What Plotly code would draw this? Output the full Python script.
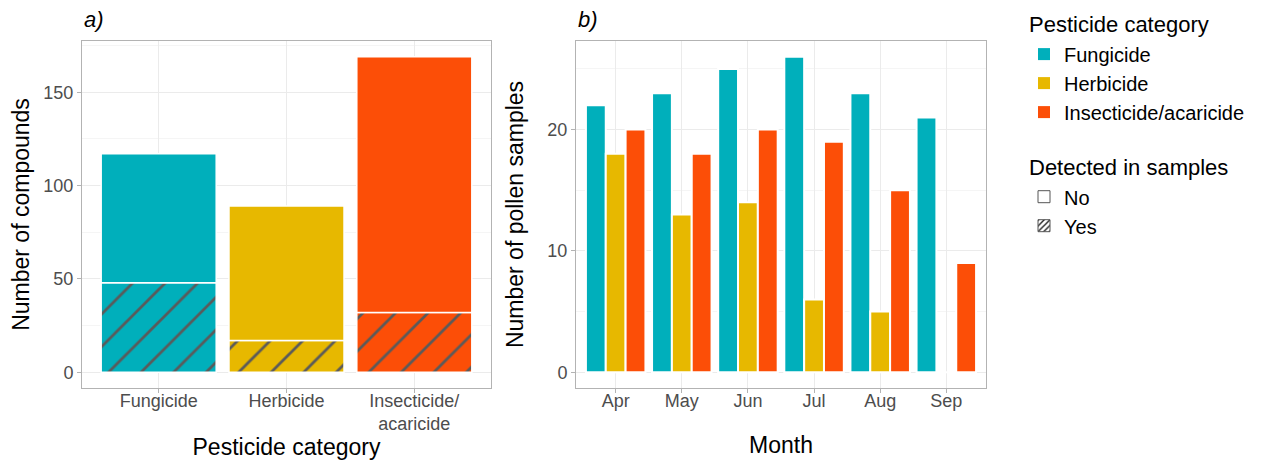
import plotly.graph_objects as go

# ---------------- data ----------------
categories = ["Fungicide", "Herbicide", "Insecticide/acaricide"]
category_ticktext = ["Fungicide", "Herbicide", "Insecticide/<br>acaricide"]
compounds_total = [117, 89, 169]
compounds_detected = [48, 17, 32]
compounds_not_detected = [t - d for t, d in zip(compounds_total, compounds_detected)]

months = ["Apr", "May", "Jun", "Jul", "Aug", "Sep"]
fungicide_samples = [22, 23, 25, 26, 23, 21]
herbicide_samples = [18, 13, 14, 6, 5, 0]
insecticide_samples = [20, 18, 20, 19, 15, 9]

palette = ["#00AFBB", "#E7B800", "#FC4E07"]
legend_names = ["Fungicide", "Herbicide", "Insecticide/acaricide"]

FONT = "Liberation Sans, Arial, sans-serif"
GRID = "#ebebeb"
MINOR = "#f5f5f5"
BORDER = "#b3b3b3"
TICKC = "#4d4d4d"
STRIPE = "#5a5a5a"

W, H = 1256, 456  # page body has an 8px margin inside the 1264x464 window

fig = go.Figure()

# ---------------- panel a ----------------
fig.add_trace(go.Bar(
    x=categories, y=compounds_detected, width=0.9, offsetgroup="a",
    marker=dict(color=STRIPE, line=dict(color="white", width=1.5),
                pattern=dict(shape="/", bgcolor=palette, size=23, solidity=0.12, fillmode="replace")),
    showlegend=False, xaxis="x", yaxis="y", hoverinfo="x+y"))
fig.add_trace(go.Bar(
    x=categories, y=compounds_not_detected, base=compounds_detected, width=0.9, offsetgroup="a",
    marker=dict(color=palette, line=dict(color="white", width=1.5)),
    showlegend=False, xaxis="x", yaxis="y", hoverinfo="x+y"))

# ---------------- panel b ----------------
for name, vals, col, og in zip(legend_names,
                                [fungicide_samples, herbicide_samples, insecticide_samples],
                                palette, ["f", "h", "i"]):
    fig.add_trace(go.Bar(
        x=months, y=vals, offsetgroup=og, name=name,
        marker=dict(color=col, line=dict(color="white", width=2)),
        showlegend=False, xaxis="x2", yaxis="y2"))

# ---------------- legend entries ----------------
for i, (name, col) in enumerate(zip(legend_names, palette)):
    fig.add_trace(go.Bar(
        x=[None], y=[None], name=name, offsetgroup="a",
        marker=dict(color=col, line=dict(color=col, width=0)),
        legendgroup="cat",
        legendgrouptitle=dict(text="Pesticide category") if i == 0 else None,
        xaxis="x", yaxis="y"))
fig.add_trace(go.Bar(
    x=[None], y=[None], name="No", offsetgroup="a",
    marker=dict(color="white", line=dict(color="#555555", width=1)),
    legendgroup="det", legendgrouptitle=dict(text="Detected in samples"),
    xaxis="x", yaxis="y"))
fig.add_trace(go.Bar(
    x=[None], y=[None], name="Yes", offsetgroup="a",
    marker=dict(color="#222222", line=dict(color="#555555", width=1),
                pattern=dict(shape="/", bgcolor="white", size=5, solidity=0.35, fillmode="replace")),
    legendgroup="det", xaxis="x", yaxis="y"))

axis_common = dict(
    showgrid=True, gridcolor=GRID, gridwidth=1, zeroline=False,
    showline=True, mirror=True, linecolor=BORDER, linewidth=1,
    ticks="outside", ticklen=4, tickcolor=BORDER, automargin=False,
    tickfont=dict(size=18, color=TICKC, family=FONT),
)


def px_x(v):
    return (v - 8) / W


def px_y(v):
    return 1 - (v - 8) / H


fig.update_layout(
    width=W, height=H,
    paper_bgcolor="white", plot_bgcolor="white",
    font=dict(family=FONT, color="black"),
    margin=dict(l=0, r=0, t=0, b=0, autoexpand=False),
    barmode="group", bargap=0.1, bargroupgap=0.0,
    xaxis=dict(domain=[px_x(82), px_x(491)], type="category", range=[-0.6, 2.6],
               tickvals=categories, ticktext=category_ticktext, ticklabelstandoff=-8,
               title=dict(text="Pesticide category", font=dict(size=23), standoff=3),
               anchor="y", **axis_common),
    yaxis=dict(domain=[px_y(388), px_y(41)], range=[-8.45, 177.45], dtick=50,
               minor=dict(dtick=25, showgrid=True, gridcolor=MINOR, ticks=""),
               title=dict(text="Number of compounds", font=dict(size=23), standoff=12),
               anchor="x", **axis_common),
    xaxis2=dict(domain=[px_x(576), px_x(986)], type="category", range=[-0.6, 5.6],
                ticklabelstandoff=-8,
                title=dict(text="Month", font=dict(size=23), standoff=27),
                anchor="y2", **axis_common),
    yaxis2=dict(domain=[px_y(388), px_y(41)], range=[-1.3, 27.3], dtick=10,
                minor=dict(dtick=5, showgrid=True, gridcolor=MINOR, ticks=""),
                title=dict(text="Number of pollen samples", font=dict(size=23), standoff=17),
                anchor="x2", **axis_common),
    legend=dict(x=px_x(1024), y=px_y(3), xanchor="left", yanchor="top",
                font=dict(size=20, family=FONT), grouptitlefont=dict(size=22, family=FONT),
                tracegroupgap=24, traceorder="grouped", itemwidth=30,
                maxheight=400, bgcolor="rgba(0,0,0,0)"),
    annotations=[
        dict(text="<i>a)</i>", x=px_x(82), y=px_y(20), xref="paper", yref="paper",
             xanchor="left", yanchor="middle", showarrow=False, font=dict(size=22)),
        dict(text="<i>b)</i>", x=px_x(576), y=px_y(20), xref="paper", yref="paper",
             xanchor="left", yanchor="middle", showarrow=False, font=dict(size=22)),
    ],
)

fig.write_html("out.html")
